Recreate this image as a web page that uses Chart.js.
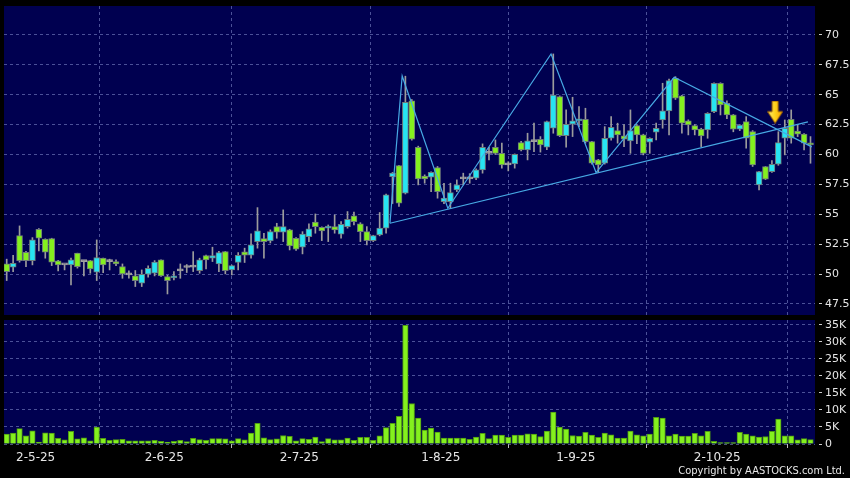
<!DOCTYPE html>
<html>
<head>
<meta charset="utf-8">
<script src="https://cdn.jsdelivr.net/npm/chart.js@4.4.1/dist/chart.umd.min.js"></script>
<style>
  html, body { margin: 0; padding: 0; background: #000; }
  #wrap { position: relative; width: 850px; height: 478px; overflow: hidden; }
  #price { position: absolute; left: 0; top: 0; }
  #vol { position: absolute; left: 0; top: 318px; }
  #copy {
    position: absolute; right: 5px; top: 464px;
    font-family: 'DejaVu Sans Condensed', 'DejaVu Sans', sans-serif; font-stretch: condensed;
    font-size: 11px; color: #e8e8e8; white-space: nowrap;
  }
</style>
</head>
<body>
<div id="wrap">
  <canvas id="price" width="850" height="318"></canvas>
  <canvas id="vol" width="850" height="160"></canvas>
  <div id="copy">Copyright by AASTOCKS.com Ltd.</div>
</div>
<script>
// ─── DATA ─────────────────────────────────────────────────
// one entry per trading day, 24 Apr 2025 .. 23 Oct 2025
const open = [
  50.85, 50.58, 53.22, 51.83, 51.13, 53.75, 52.92, 52.97, 51.10, 50.77,
  50.77, 51.75, 51.05, 51.13, 50.16, 51.33, 51.05, 51.05, 50.63, 49.93,
  49.85, 49.24, 49.99, 50.07, 51.19, 49.80, 49.68, 50.27, 50.55, 50.58,
  50.29, 51.55, 51.33, 50.85, 51.88, 50.35, 50.97, 51.86, 51.58, 52.72,
  52.97, 52.78, 53.97, 53.50, 53.70, 53.00, 52.25, 53.14, 54.34, 53.92,
  53.84, 53.97, 53.34, 53.97, 54.87, 54.20, 53.55, 52.80, 53.28, 53.84,
  58.15, 59.07, 56.76, 64.48, 60.61, 58.20, 58.10, 58.90, 56.06, 56.06,
  57.04, 57.96, 57.96, 58.02, 58.71, 60.10, 60.61, 60.10, 59.13, 59.21,
  61.00, 60.38, 61.08, 61.28, 60.61, 62.20, 64.84, 61.58, 62.53, 62.81,
  62.95, 61.08, 59.55, 59.27, 61.36, 62.00, 61.56, 61.14, 62.42, 61.64,
  61.03, 61.86, 62.89, 63.65, 66.38, 64.90, 62.81, 62.42, 62.12, 62.06,
  63.59, 65.96, 64.29, 63.31, 62.12, 62.75, 61.91, 57.46, 58.99, 58.57,
  59.19, 61.36, 62.95, 61.97, 61.70, 60.95
];
const high = [
  51.25, 51.58, 54.03, 51.90, 53.05, 53.80, 52.95, 53.00, 51.15, 50.80,
  51.33, 51.75, 51.10, 51.15, 52.86, 51.35, 51.25, 51.20, 50.85, 50.27,
  50.30, 50.35, 50.69, 51.13, 51.20, 49.90, 50.21, 50.85, 50.80, 51.88,
  51.33, 51.60, 52.25, 51.90, 51.90, 50.75, 51.80, 52.17, 53.36, 55.56,
  53.42, 53.70, 54.25, 55.37, 53.75, 53.05, 53.55, 54.20, 55.03, 53.95,
  54.11, 54.95, 54.39, 55.23, 55.18, 54.30, 53.97, 53.25, 55.15, 56.70,
  58.50, 59.10, 66.55, 64.60, 60.70, 58.30, 58.55, 59.00, 57.60, 57.60,
  57.88, 58.44, 58.40, 58.80, 60.89, 60.60, 61.22, 60.95, 59.40, 60.05,
  61.10, 61.78, 62.62, 61.50, 62.80, 68.41, 64.90, 63.73, 64.79, 64.00,
  63.87, 61.10, 59.60, 62.33, 63.17, 62.62, 62.50, 63.73, 62.50, 61.70,
  61.40, 62.62, 65.96, 66.30, 66.51, 64.95, 62.90, 62.50, 62.20, 63.50,
  66.00, 66.00, 64.50, 63.35, 62.50, 63.17, 62.00, 58.60, 59.00, 59.50,
  61.91, 62.89, 63.73, 62.50, 61.75, 61.50
];
const low = [
  49.46, 50.21, 51.00, 50.63, 50.77, 51.94, 51.33, 50.71, 50.27, 50.35,
  49.10, 50.50, 49.85, 50.07, 49.46, 50.13, 50.35, 50.70, 49.65, 49.65,
  48.96, 48.96, 49.74, 49.85, 49.80, 48.34, 49.51, 49.65, 50.13, 50.21,
  50.07, 50.43, 51.05, 50.21, 50.02, 49.93, 50.35, 50.97, 51.33, 52.17,
  51.33, 52.60, 53.00, 52.72, 52.02, 51.98, 51.69, 52.72, 53.42, 52.80,
  52.72, 53.42, 53.00, 53.84, 54.11, 52.72, 52.44, 52.72, 53.20, 53.42,
  55.90, 55.65, 56.70, 61.20, 57.46, 57.60, 56.90, 56.35, 55.90, 55.51,
  56.90, 57.46, 57.60, 57.90, 58.44, 59.55, 60.00, 58.86, 58.63, 58.86,
  60.30, 59.55, 60.24, 60.20, 60.40, 61.78, 61.50, 60.61, 61.50, 62.33,
  60.95, 59.20, 58.49, 59.20, 61.20, 60.95, 60.66, 60.10, 60.90, 59.97,
  60.10, 61.22, 62.20, 61.64, 64.60, 61.78, 61.64, 61.64, 60.66, 61.36,
  63.50, 63.31, 63.00, 61.90, 62.00, 60.53, 59.00, 57.04, 57.90, 58.50,
  59.10, 59.97, 60.95, 61.50, 60.38, 59.27
];
const close = [
  50.21, 50.91, 51.13, 51.13, 52.86, 53.00, 51.83, 51.00, 50.77, 50.77,
  51.19, 50.63, 51.05, 50.43, 51.38, 50.77, 51.05, 50.85, 50.02, 49.93,
  49.46, 49.99, 50.49, 51.00, 49.85, 49.46, 49.85, 50.27, 50.55, 50.58,
  51.19, 51.19, 51.55, 51.80, 50.29, 50.71, 51.58, 51.58, 52.44, 53.61,
  52.72, 53.55, 53.50, 53.97, 52.36, 52.08, 53.34, 53.78, 53.97, 53.61,
  53.97, 53.70, 54.17, 54.59, 54.39, 53.55, 52.80, 53.22, 53.84, 56.62,
  58.44, 55.93, 64.37, 61.28, 57.96, 57.96, 58.52, 56.90, 56.35, 56.81,
  57.46, 57.96, 57.96, 58.71, 60.61, 60.10, 60.10, 59.13, 59.13, 60.02,
  60.38, 61.14, 61.08, 60.80, 62.75, 64.98, 61.58, 62.53, 62.81, 62.95,
  61.08, 59.27, 59.13, 61.36, 62.28, 61.64, 61.28, 62.00, 61.64, 60.10,
  61.36, 62.20, 63.65, 66.18, 64.71, 62.62, 62.47, 62.05, 61.56, 63.45,
  65.96, 64.15, 63.31, 62.12, 62.47, 61.36, 59.13, 58.57, 57.93, 59.19,
  61.00, 62.20, 61.36, 61.70, 60.95, 60.80
];
const volume = [
  2900, 3200, 4500, 2400, 3900, 600, 3300, 3200, 1700, 1200,
  3700, 1500, 1800, 900, 5000, 1700, 1100, 1300, 1400, 900,
  900, 900, 900, 1100, 800, 600, 800, 1100, 700, 1700,
  1300, 1100, 1600, 1600, 1500, 900, 1600, 1200, 3200, 6100,
  1800, 1300, 1500, 2500, 2250, 900, 1600, 1400, 2050, 700,
  1600, 1200, 1200, 1750, 1100, 1950, 1950, 1100, 2400, 4800,
  6100, 8100, 34800, 11900, 7600, 4100, 4700, 3500, 1750, 1750,
  1750, 1750, 1400, 2050, 3100, 1600, 2600, 2600, 1950, 2600,
  2600, 3000, 2900, 2150, 3800, 9400, 5000, 4400, 2500, 2300,
  3400, 2600, 1950, 3200, 2700, 1750, 1750, 3800, 2700, 2400,
  2900, 7800, 7600, 2400, 2900, 2300, 2300, 3100, 2400, 3700,
  800, 400, 400, 400, 3400, 2900, 2400, 2050, 2200, 3700,
  7300, 2400, 2400, 1200, 1600, 1300
];

// month labels sit on the first trading day of each month
const monthStartIdx = [5, 25, 46, 68, 89, 111];
const monthLabels = ['2-5-25', '2-6-25', '2-7-25', '1-8-25', '1-9-25', '2-10-25'];
const priceTicks = [47.5, 50, 52.5, 55, 57.5, 60, 62.5, 65, 67.5, 70];
const volTicks = [0, 5000, 10000, 15000, 20000, 25000, 30000, 35000];

// hand-drawn trend lines (day index, price)
const zigzagIdx = [59.6, 61.5, 68.6, 84.65, 91.65, 103.8, 125.2];
const zigzagPrice = [54.25, 66.57, 55.51, 68.41, 58.49, 66.46, 60.64];
const supportIdx = [59.6, 124.6];
const supportPrice = [54.25, 62.73];
const arrowIdx = [119.5];
const arrowPrice = [63.55];

// ─── STYLE ────────────────────────────────────────────────
const NAVY = '#000050';
const CYAN = '#27e4f2';
const GREEN = '#84f01e';
const DOJI = '#a0a0a0';
const WICK = '#9c9c9c';
const GRID = 'rgba(125,135,200,0.6)';
const TEXT = '#e6e6e6';
const LINE = '#47a9e4';
const X_MIN = -0.42, X_MAX = 125.7;
const AXIS_W = 35;
const FONT = { family: 'DejaVu Sans', size: 11 };

const areaBg = {
    id: 'areaBg',
    beforeDraw(chart) {
        const { ctx, chartArea: a } = chart;
        ctx.save();
        ctx.fillStyle = NAVY;
        ctx.fillRect(a.left, a.top, a.right - a.left, a.bottom - a.top);
        ctx.restore();
    }
};

function makeArrow() {
    const c = document.createElement('canvas');
    c.width = 16; c.height = 23;
    const g = c.getContext('2d');
    const grad = g.createLinearGradient(0, 0, 16, 0);
    grad.addColorStop(0, '#fff07a');
    grad.addColorStop(0.5, '#ffd21a');
    grad.addColorStop(1, '#f09a00');
    g.fillStyle = grad;
    g.strokeStyle = '#a86a00';
    g.lineWidth = 1;
    g.beginPath();
    g.moveTo(5, 0.5); g.lineTo(11, 0.5); g.lineTo(11, 11);
    g.lineTo(15.5, 11); g.lineTo(8, 22.5); g.lineTo(0.5, 11);
    g.lineTo(5, 11); g.closePath();
    g.fill(); g.stroke();
    return c;
}

const candleColor = open.map((o, i) => close[i] > o ? CYAN : close[i] < o ? GREEN : DOJI);

function xAxis(showLabels) {
    return {
        type: 'linear',
        min: X_MIN, max: X_MAX,
        offset: false,
        afterBuildTicks: axis => { axis.ticks = monthStartIdx.map(v => ({ value: v - 0.5 })); },
        afterFit: s => {
            s.height = showLabels ? 34 : 0;
            s.paddingLeft = 0; s.paddingRight = 0;
        },
        grid: {
            color: GRID, lineWidth: 1,
            drawTicks: showLabels, tickLength: 4, tickColor: '#bbbbbb', tickBorderDash: [1, 0]
        },
        border: { display: false, dash: [3, 3] },
        ticks: {
            display: showLabels, autoSkip: false, maxRotation: 0, padding: 3,
            color: TEXT, font: { family: 'DejaVu Sans', size: 12 },
            callback: (v, i) => monthLabels[i]
        }
    };
}

function yAxis(min, max, tickVals, fmt) {
    return {
        position: 'right',
        min, max,
        afterBuildTicks: axis => { axis.ticks = tickVals.map(v => ({ value: v })); },
        afterFit: s => {
            s.width = AXIS_W;
            s.paddingTop = 0; s.paddingBottom = 0;
        },
        grid: {
            color: GRID, lineWidth: 1,
            drawTicks: true, tickLength: 7, tickColor: '#cccccc', tickBorderDash: [0, 4, 3, 20]
        },
        border: { display: false, dash: [3, 3] },
        ticks: { color: TEXT, font: FONT, padding: 3, autoSkip: false, callback: fmt }
    };
}

// ─── PRICE CHART ──────────────────────────────────────────
new Chart(document.getElementById('price'), {
    type: 'bar',
    data: {
        datasets: [
            {
                type: 'line', order: 0,
                data: arrowIdx.map((x, i) => ({ x, y: arrowPrice[i] })),
                showLine: false, pointStyle: makeArrow(), pointRadius: 10
            },
            {
                type: 'line', order: 0,
                data: zigzagIdx.map((x, i) => ({ x, y: zigzagPrice[i] })),
                borderColor: LINE, borderWidth: 1.2, pointRadius: 0, tension: 0
            },
            {
                type: 'line', order: 0,
                data: supportIdx.map((x, i) => ({ x, y: supportPrice[i] })),
                borderColor: LINE, borderWidth: 1.2, pointRadius: 0, tension: 0
            },
            {
                order: 1, grouped: false,
                data: open.map((o, i) => ({ x: i, y: [o, close[i]] })),
                backgroundColor: candleColor,
                borderColor: open.map((o, i) => close[i] === o ? DOJI : '#6e7a7a'),
                borderWidth: 1, borderSkipped: false,
                barThickness: 6, minBarLength: 2
            },
            {
                order: 2, grouped: false,
                data: low.map((l, i) => ({ x: i, y: [l, high[i]] })),
                backgroundColor: WICK, borderWidth: 0,
                barThickness: 1
            }
        ]
    },
    options: {
        responsive: false,
        animation: false,
        layout: { autoPadding: false, padding: { left: 4, top: 6, right: 0, bottom: 3 } },
        plugins: { legend: { display: false }, tooltip: { enabled: false } },
        scales: {
            x: xAxis(false),
            y: yAxis(46.58, 72.42, priceTicks, v => String(v))
        }
    },
    plugins: [areaBg]
});

// ─── VOLUME CHART ─────────────────────────────────────────
new Chart(document.getElementById('vol'), {
    type: 'bar',
    data: {
        datasets: [{
            data: volume.map((v, i) => ({ x: i, y: v })),
            backgroundColor: GREEN,
            borderColor: '#4f9a12', borderWidth: 1, borderSkipped: 'bottom',
            barThickness: 5.5
        }]
    },
    options: {
        responsive: false,
        animation: false,
        layout: { autoPadding: false, padding: { left: 4, top: 2, right: 0, bottom: 0 } },
        plugins: { legend: { display: false }, tooltip: { enabled: false } },
        scales: {
            x: xAxis(true),
            y: yAxis(0, 36400, volTicks, v => v === 0 ? '0' : (v / 1000) + 'K')
        }
    },
    plugins: [areaBg]
});
</script>
</body>
</html>
